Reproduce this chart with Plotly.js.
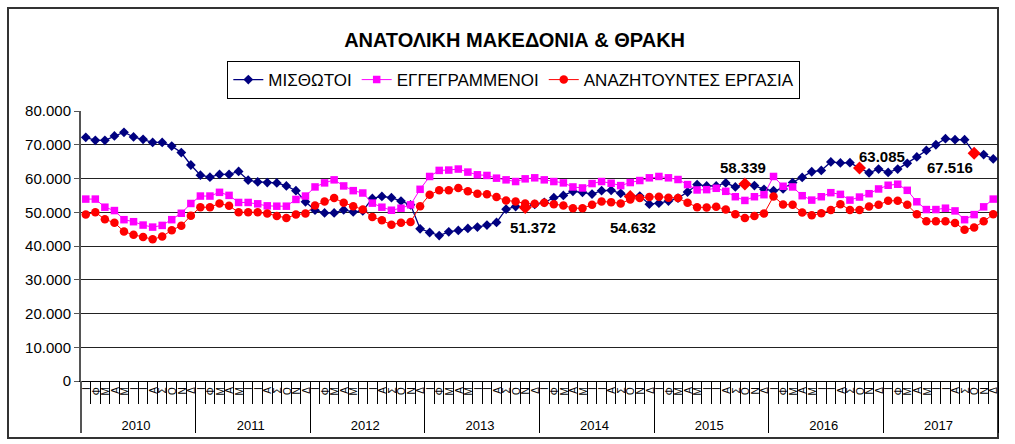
<!DOCTYPE html>
<html>
<head>
<meta charset="utf-8">
<script src="https://cdn.plot.ly/plotly-3.0.1.min.js"></script>
<style>
html,body{margin:0;padding:0;background:#fff;}
#chart{width:1015px;height:444px;}
</style>
</head>
<body>
<div id="chart"></div>
<script>
// ---- data ----
const years = ['2010','2011','2012','2013','2014','2015','2016','2017'];
const months = ['Ι','Φ','Μ','Α','Μ','Ι','Ι','Α','Σ','Ο','Ν','Δ'];

const seriesNames = ['ΜΙΣΘΩΤΟΙ', 'ΕΓΓΕΓΡΑΜΜΕΝΟΙ', 'ΑΝΑΖΗΤΟΥΝΤΕΣ ΕΡΓΑΣΙΑ'];

const misthotoi = [
  72200,71300,71300,72600,73700,72300,71600,70700,70700,69600,67700,64000,
  61000,60400,61200,61200,62100,59500,59000,58800,58700,57800,56400,53100,
  50600,49800,49800,50700,50100,50400,54100,54700,54300,53300,52200,45100,
  44000,43100,44200,44600,45200,45600,46200,47000,50900,51700,51372,52300,
  52900,54300,55000,56200,55900,55400,56400,56500,55600,54632,54800,52400,
  52700,53300,54200,56000,58200,57800,57800,58700,57500,58339,57900,56800,
  56400,56900,58800,60300,62000,62400,64900,64600,64700,63085,61700,62800,
  61800,62800,64500,66400,68300,70000,71800,71500,71500,67516,67100,65800
];
const eggegrammenoi = [
  53900,53900,51500,50500,47800,47200,46200,45600,46100,47800,49700,52600,
  54800,54800,55900,55000,52900,52900,52500,51900,51800,51800,53800,54800,
  57500,58700,59600,57800,56400,55700,52700,51500,50600,51200,52200,56800,
  60600,62400,62500,62800,61900,61100,60900,60100,59600,59100,59900,60200,
  59600,59100,58700,57500,57200,58500,59100,58600,57900,58800,59400,60200,
  60600,60200,59700,58200,56600,56700,57100,56200,54600,53500,54600,55200,
  60600,57700,57500,54900,53600,54600,55800,55300,53600,54500,55500,56900,
  58000,58300,56500,53100,50800,50800,51200,50400,47800,49300,51600,53900
];
const anazitountes = [
  49300,50000,47900,46900,44300,43300,42700,42000,42800,44700,46000,49000,
  51500,51500,52600,51900,50000,50000,50000,49600,48900,48300,49300,49600,
  52000,53200,54200,52800,51800,50800,48600,47600,46300,46900,47100,51800,
  55200,56500,56500,57200,56200,55500,55300,54500,53500,53200,52600,52500,
  52800,52400,52000,51200,51200,52200,53200,53000,52600,53800,54200,54500,
  54600,54300,54200,52800,51500,51400,51600,50800,49400,48300,48900,49600,
  54700,52300,52200,49900,49100,49700,50700,52400,50700,50700,51700,52200,
  53400,53400,52200,49400,47300,47300,47300,46800,44800,45500,47300,49400
];
// highlighted (labelled) points of ΜΙΣΘΩΤΟΙ, by month index
const highlightIdx = [46, 57, 69, 81, 93];
const labelShiftX = [8, 3, -2, 23, -24];
const labelShiftY = [-20, -31, 17, 12, -14];

// ---- build multicategory x ----
// leading no-break spaces pad the rotated month labels (pushes year row down);
// invisible suffix keeps repeated month initials distinct inside a year
const monthKeys = months.map((m, i) =>
  '<span style="font-size:10px">\u00a0\u00a0\u00a0' + m +
  '\u200b'.repeat(months.slice(0, i).filter(v => v === m).length) + '</span>');
const xYear = [], xMonth = [];
years.forEach(y => monthKeys.forEach(m => { xYear.push(y); xMonth.push(m); }));

const FONT = 'Liberation Sans, Arial, sans-serif';

const traces = [
  {
    type: 'scatter', mode: 'lines+markers', name: seriesNames[0],
    x: [xYear, xMonth], y: misthotoi,
    line: {color: '#000080', width: 1.3},
    marker: {symbol: 'diamond', size: 7.5, color: '#000080'}
  },
  {
    type: 'scatter', mode: 'lines+markers', name: seriesNames[1],
    x: [xYear, xMonth], y: eggegrammenoi,
    line: {color: '#FF00FF', width: 1},
    marker: {symbol: 'square', size: 7.5, color: '#FF00FF'}
  },
  {
    type: 'scatter', mode: 'lines+markers', name: seriesNames[2],
    x: [xYear, xMonth], y: anazitountes,
    line: {color: '#FF0000', width: 1},
    marker: {symbol: 'circle', size: 8.5, color: '#FF0000'}
  },
  {
    type: 'scatter', mode: 'markers', showlegend: false, hoverinfo: 'skip',
    x: [highlightIdx.map(i => xYear[i]), highlightIdx.map(i => xMonth[i])],
    y: highlightIdx.map(i => misthotoi[i]),
    marker: {symbol: 'diamond', size: 10, color: '#FF0000'}
  }
];

const fmt = v => String(v).replace(/\B(?=(\d{3})+(?!\d))/g, '.');
const annotations = highlightIdx.map((i, k) => ({
  xref: 'x', yref: 'y', x: i, y: misthotoi[i],
  text: '<b>' + fmt(misthotoi[i]) + '</b>', showarrow: false,
  xshift: labelShiftX[k], yshift: labelShiftY[k],
  font: {family: FONT, size: 15, color: '#000'}
}));

const layout = {
  width: 1015, height: 444,
  margin: {l: 81, r: 17, t: 111, b: 63},
  paper_bgcolor: '#fff', plot_bgcolor: '#fff',
  separators: ',.',
  font: {family: FONT, color: '#000'},
  title: {
    text: '<b>ΑΝΑΤΟΛΙΚΗ ΜΑΚΕΔΟΝΙΑ & ΘΡΑΚΗ</b>',
    font: {family: FONT, size: 20, color: '#000'},
    xref: 'container', x: 0.507, xanchor: 'center',
    yref: 'container', y: 0.91, yanchor: 'middle'
  },
  showlegend: true,
  legend: {
    orientation: 'h', xref: 'paper', x: 0.472, xanchor: 'center',
    yref: 'paper', y: 1.185, yanchor: 'top',
    bordercolor: '#000', borderwidth: 1, bgcolor: '#fff',
    font: {family: FONT, size: 17, color: '#000'},
    itemwidth: 30, tracegroupgap: 0
  },
  xaxis: {
    type: 'multicategory',
    range: [-0.5, years.length * months.length - 0.5], autorange: false,
    tickmode: 'linear', tick0: 0, dtick: 1,
    showline: true, linecolor: '#000', linewidth: 1,
    ticks: 'outside', tickson: 'boundaries', ticklen: 22, tickcolor: '#000', tickwidth: 1,
    tickangle: -90,
    tickfont: {family: FONT, size: 13, color: '#000'},
    showdividers: true, dividercolor: '#000', dividerwidth: 1,
    showgrid: false, zeroline: false, fixedrange: true
  },
  yaxis: {
    range: [0, 80000], dtick: 10000, tick0: 0,
    tickformat: ',d',
    showline: true, linecolor: '#555', linewidth: 2,
    ticks: 'outside', ticklen: 5, tickcolor: '#555',
    showgrid: true, gridcolor: '#222', gridwidth: 1,
    zeroline: false,
    tickfont: {family: FONT, size: 15, color: '#000'},
    fixedrange: true
  },
  annotations: annotations,
  shapes: [
    {type: 'rect', xref: 'paper', yref: 'paper',
     x0: (8 - 81) / 917, x1: 1, y0: (381 - 438) / 270, y1: (381 - 8) / 270,
     line: {color: '#333', width: 2}, fillcolor: 'rgba(0,0,0,0)', layer: 'below'},
    {type: 'line', xref: 'paper', yref: 'paper',
     x0: 0, x1: 0, y0: 0, y1: (381 - 433) / 270,
     line: {color: '#555', width: 2}}
  ]
};

Plotly.newPlot('chart', traces, layout, {displayModeBar: false, staticPlot: true});
</script>
</body>
</html>
